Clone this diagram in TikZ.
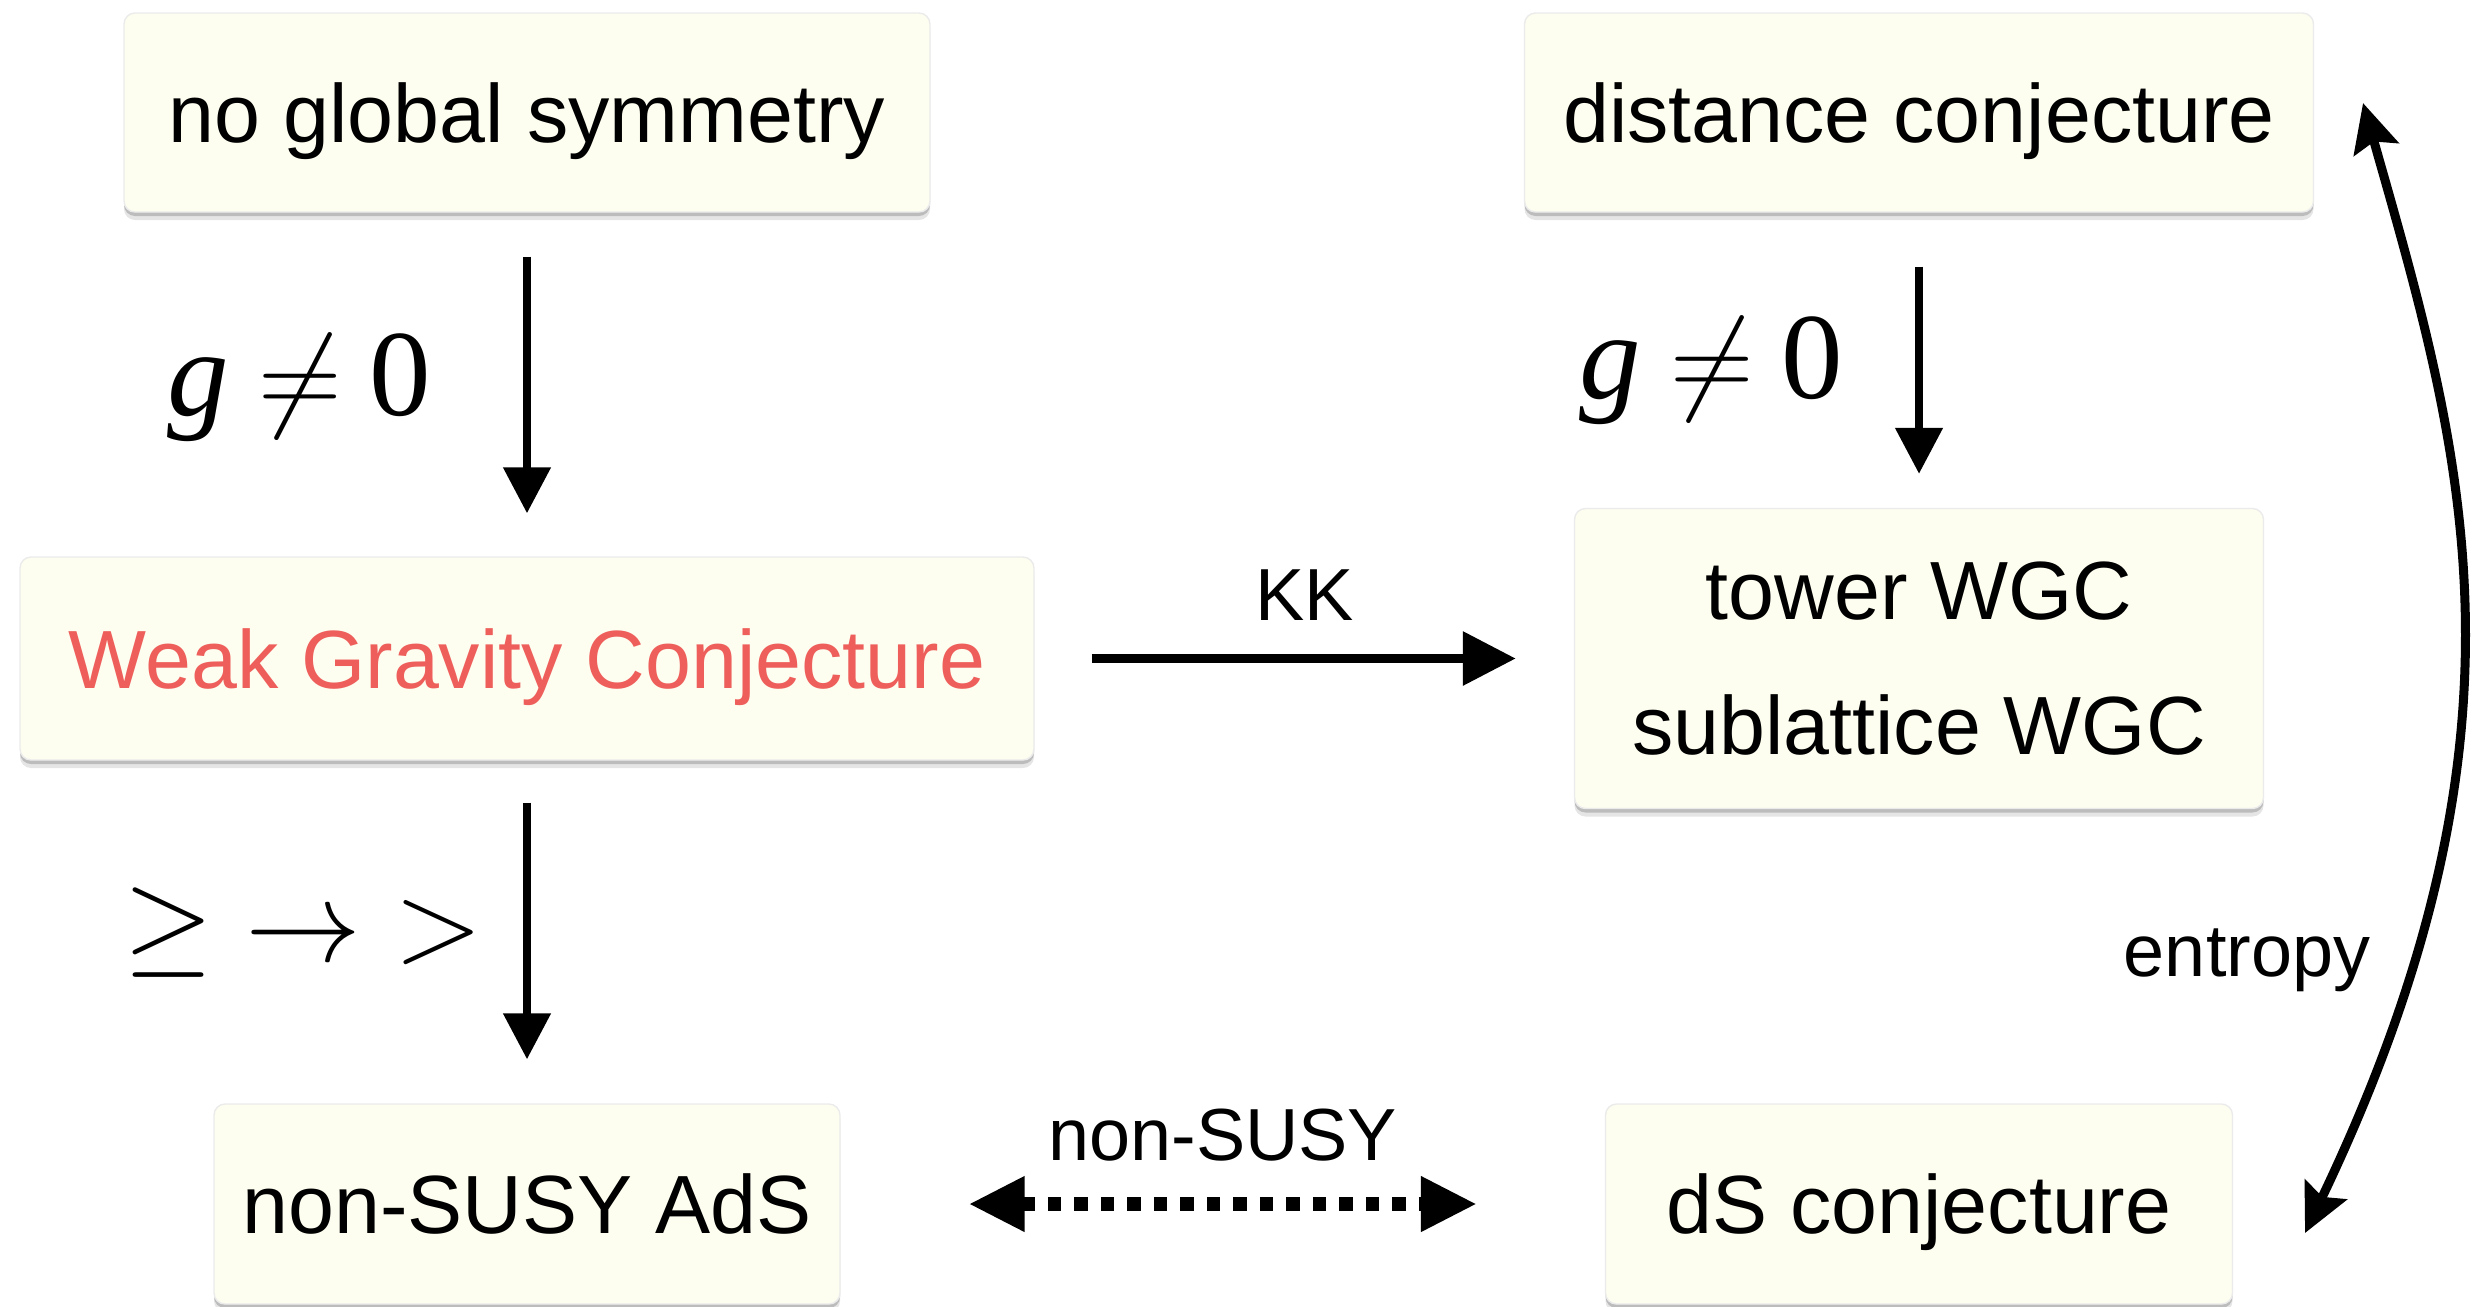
\documentclass[tikz,border=0pt]{standalone}
\usepackage[no-math]{fontspec}
\usepackage{graphicx}
\setmainfont{Liberation Sans}
\newfontfamily\timesfont{Liberation Serif}
\usetikzlibrary{arrows.meta, shadows}

\definecolor{boxfill}{HTML}{FDFDF0}
\definecolor{wgcred}{HTML}{EE5E5A}

\newcommand{\bigmath}[1]{\scalebox{1.59}{\fontsize{20.74}{25}\selectfont$#1$}}
\newcommand{\gnonzero}{{\timesfont\itshape g}\hspace{0.24em}\bigmath{\neq}\hspace{0.22em}{\timesfont 0}}

\begin{document}
\begin{tikzpicture}[x=0.1mm, y=-0.1mm, align=center,
	conj/.style={rectangle, rounded corners=1.1mm, fill=boxfill, draw=black!8, inner sep=0pt,
		font=\fontsize{23.5}{38.6}\selectfont,
		general shadow={shadow yshift=-0.8mm, opacity=0.10, fill=black},
		general shadow={shadow yshift=-0.4mm, opacity=0.18, fill=black}},
	oneline/.style={conj, text depth=0pt},
	lbl/.style={inner sep=0pt, font=\fontsize{21}{25}\selectfont},
	cond/.style={inner sep=0pt, anchor=base, font=\fontsize{35}{40}\selectfont},
	imp/.style={line width=0.8mm, -{Triangle[length=4.6mm, width=4.6mm]}},
	kk/.style={line width=0.95mm, -{Triangle[length=5.3mm, width=5.2mm]}},
	susy/.style={line width=1.35mm, dash pattern=on 1.35mm off 1.3mm,
		{Triangle[length=5.6mm, width=5.2mm]}-{Triangle[length=5.6mm, width=5.2mm]}},
	ent/.style={line width=0.9mm,
		{Stealth[length=4.8mm, width=4.6mm, inset=0.8mm]}-{Stealth[length=4.8mm, width=4.6mm, inset=0.8mm]}}]

\clip (0,0) rectangle (2481,1306);

\path (527,112.5) node[oneline, minimum width=80.6mm, minimum height=19.9mm] (nogs) {no global symmetry}
	  (527,658.5) node[oneline, minimum width=101.4mm, minimum height=20.3mm, text=wgcred] (wgc) {Weak Gravity Conjecture}
	  (527,1204) node[oneline, minimum width=62.6mm, minimum height=20mm] (ads) {non-SUSY AdS}
	  (1919,112.5) node[oneline, minimum width=78.9mm, minimum height=19.9mm] (dist) {distance conjecture}
	  (1919,658.5) node[conj, minimum width=68.9mm, minimum height=30mm] (tower) {tower WGC\\sublattice WGC}
	  (1919,1204) node[oneline, minimum width=62.7mm, minimum height=20mm] (ds) {dS conjecture}

	  (299,415) node[cond] (gnz1) {\gnonzero}
	  (1711,398) node[cond] (gnz2) {\gnonzero}
	  (303,961) node[cond] (ineq) {\bigmath{\geq\;\to\;>}}
	  (2247,976) node[lbl, anchor=base] (entlbl) {entropy}

	  (2305,1233) coordinate (ent1)
	  (2363,103) coordinate (ent2);

\draw[imp, shorten <=4.4mm, shorten >=4.3mm] (nogs) -- (wgc);
\draw[imp, shorten <=4.2mm, shorten >=4.4mm] (wgc) -- (ads);
\draw[imp, shorten <=5.4mm, shorten >=3.4mm] (dist) -- (tower);
\draw[kk, shorten <=5.7mm, shorten >=5.8mm] (wgc) -- node[lbl, above=3.3mm] (kklbl) {KK} (tower);
\draw[susy, shorten <=12.8mm, shorten >=12.8mm] (ads) -- node[lbl, above=3.6mm] (susylbl) {non-SUSY} (ds);
\draw[ent] (ent1) .. controls (2546,729) and (2463,454) .. (ent2);

\end{tikzpicture}
\end{document}
